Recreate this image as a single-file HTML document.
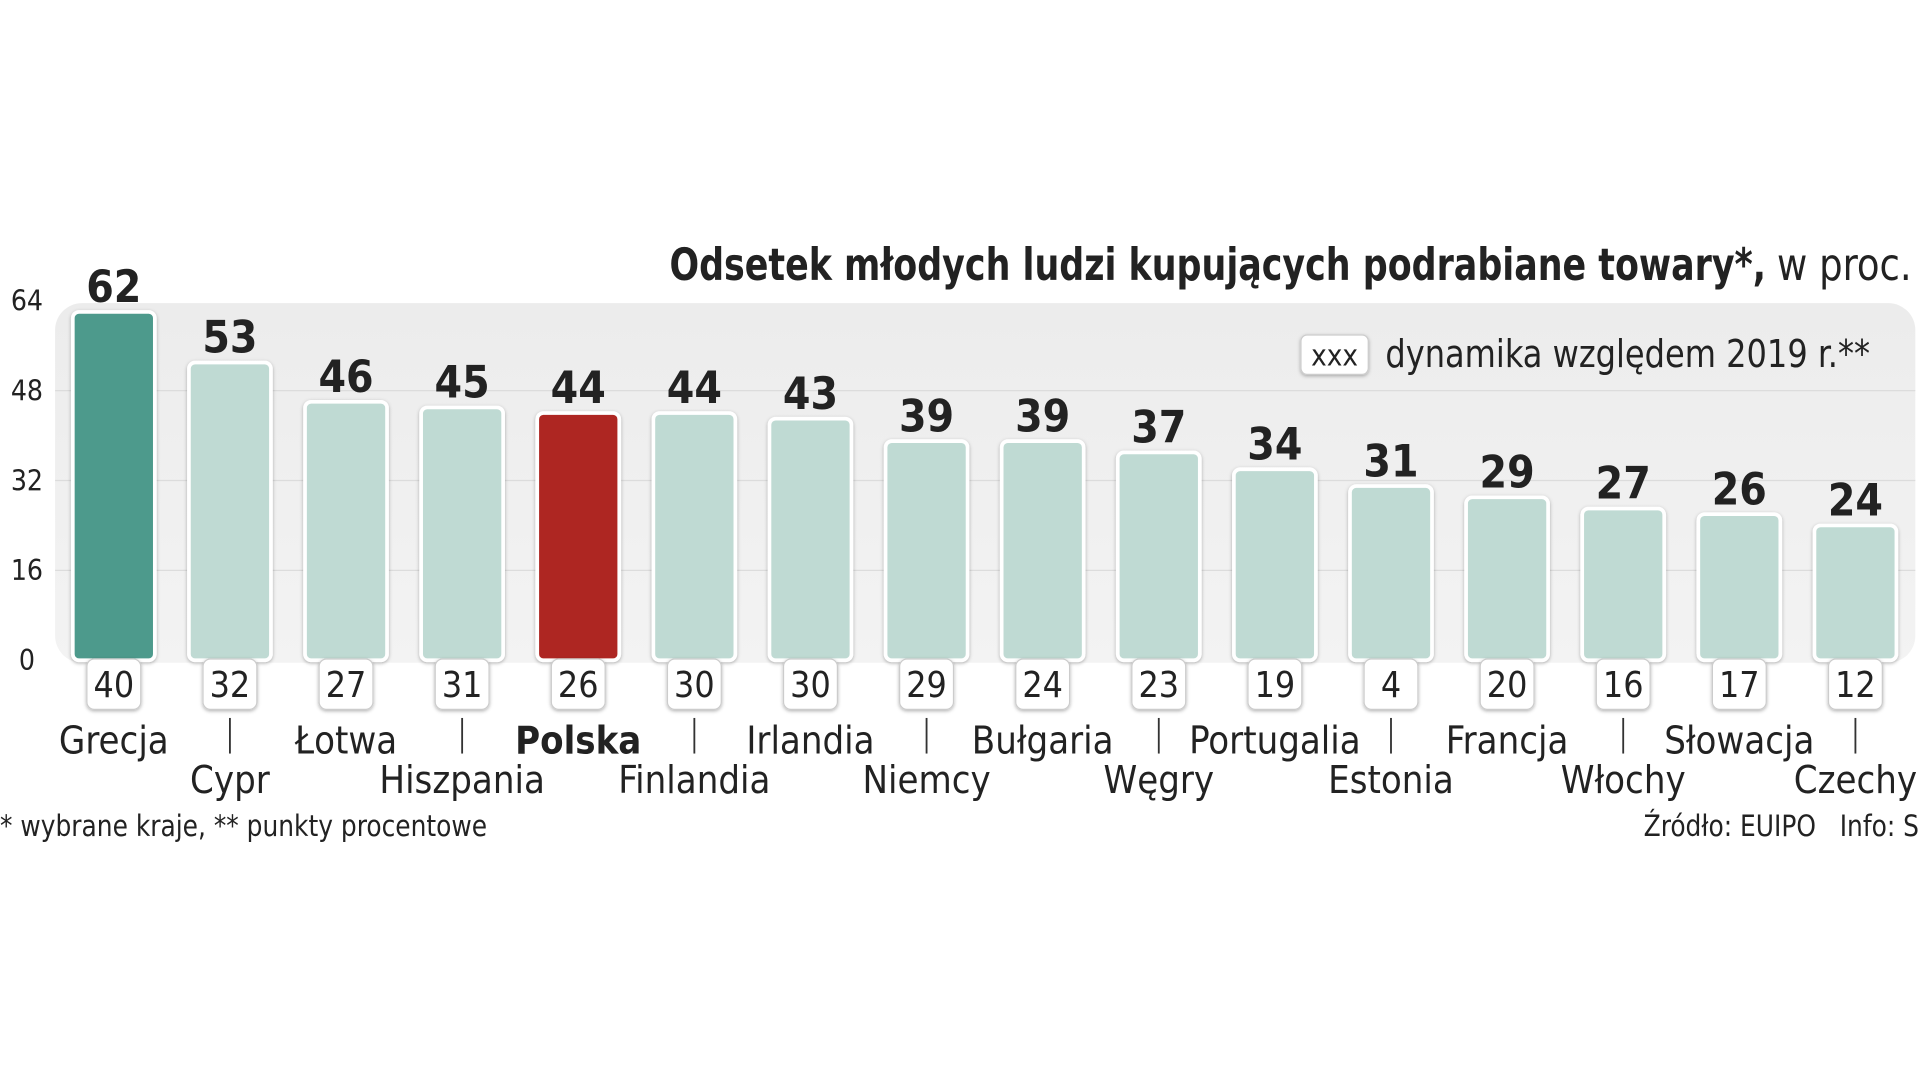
<!DOCTYPE html>
<html><head><meta charset="utf-8">
<style>
html,body{margin:0;padding:0;background:#fff;}
svg{display:block;}
text{font-family:"Liberation Sans Narrow","DejaVu Sans Condensed","Liberation Sans",sans-serif;fill:#222;}
</style></head>
<body>
<svg id="chart" width="1919" height="1080" viewBox="0 0 1568 880" preserveAspectRatio="none" xmlns="http://www.w3.org/2000/svg">
<defs>
<linearGradient id="panelGrad" x1="0" y1="0" x2="0" y2="1">
<stop offset="0" stop-color="#ececec"/><stop offset="1" stop-color="#f3f3f3"/>
</linearGradient>
<filter id="sh" x="-20%" y="-20%" width="140%" height="140%">
<feDropShadow dx="0" dy="1" stdDeviation="1.5" flood-color="#000" flood-opacity="0.3"/>
</filter>
</defs>
<text x="547" y="228" font-size="36" font-weight="bold" textLength="896" lengthAdjust="spacingAndGlyphs">Odsetek młodych ludzi kupujących podrabiane towary*,</text>
<text x="1452" y="228" font-size="36" fill="#333" textLength="110" lengthAdjust="spacingAndGlyphs">w proc.</text>
<rect x="45" y="247" width="1520" height="293" rx="22" fill="url(#panelGrad)"/>
<g id="grid"></g>
<g id="legend">
<rect x="1063" y="273" width="55" height="32" rx="5" fill="#fff" stroke="#ccc" filter="url(#sh)"/>
<text x="1090.5" y="298" text-anchor="middle" font-size="24">xxx</text>
<text x="1132" y="299" font-size="31" fill="#333" textLength="396" lengthAdjust="spacingAndGlyphs">dynamika względem 2019 r.**</text>
</g>
<g id="bars"></g>
<text x="0" y="681" font-size="24" fill="#444" textLength="398" lengthAdjust="spacingAndGlyphs">* wybrane kraje, ** punkty procentowe</text>
<text x="1343" y="681" font-size="24" fill="#444" xml:space="preserve" textLength="225" lengthAdjust="spacingAndGlyphs">Źródło: EUIPO   Info: S</text>
</svg>
<script>
const categories = ["Grecja","Cypr","Łotwa","Hiszpania","Polska","Finlandia","Irlandia","Niemcy","Bułgaria","Węgry","Portugalia","Estonia","Francja","Włochy","Słowacja","Czechy"];
const values = [62,53,46,45,44,44,43,39,39,37,34,31,29,27,26,24];
const changes = [40,32,27,31,26,30,30,29,24,23,19,4,20,16,17,12];
const yTicks = [0,16,32,48,64];

const NS = "http://www.w3.org/2000/svg";
const y0 = 538, yTop = 245, yMax = 64;
function yScale(v){ return y0 - (v / yMax) * (y0 - yTop); }
const x0 = 93, step = 94.87;
function xScale(i){ return x0 + i * step; }
function mk(tag, attrs, parent){
  const el = document.createElementNS(NS, tag);
  for (const k in attrs) el.setAttribute(k, attrs[k]);
  parent.appendChild(el);
  return el;
}
const grid = document.getElementById('grid');
yTicks.forEach(t => {
  const yy = yScale(t);
  if (t > 0 && t < yMax) {
    const ln = mk('line', {x1: 45, x2: 1565, y1: yy, y2: yy, stroke: '#dcdcdc', 'stroke-width': 1}, grid);
    
    
  }
  const lb = mk('text', {x: 22, y: yy + 8, 'text-anchor': 'middle', 'font-size': 23, fill: '#333', 'font-family': '"Liberation Sans",sans-serif'}, grid);
  lb.textContent = t;
  
  
});
const bars = document.getElementById('bars');
const bw = 67;
categories.forEach((c, i) => {
  const cx = xScale(i);
  const top = yScale(values[i]);
  const fill = i === 0 ? '#4e9a8c' : (c === 'Polska' ? '#ae2820' : '#bfdad3');
  const r = mk('rect', {x: cx - bw/2, y: top, width: bw, height: y0 - top, rx: 5, fill: fill, stroke: '#fff', 'stroke-width': 3, filter: 'url(#sh)'}, bars);
  
  
  const vl = mk('text', {x: cx, y: top - 8, 'text-anchor': 'middle', 'font-size': 36, 'font-weight': 'bold'}, bars);
  vl.textContent = values[i];
  
  
  const bx = mk('rect', {x: cx - 22, y: 537, width: 44, height: 41, rx: 6, fill: '#fff', stroke: '#ccc', 'stroke-width': 1, filter: 'url(#sh)'}, bars);
  
  
  const ct = mk('text', {x: cx, y: 568, 'text-anchor': 'middle', 'font-size': 29}, bars);
  ct.textContent = changes[i];
  
  
  const odd = i % 2 === 1;
  if (odd) {
    const tk = mk('line', {x1: cx, x2: cx, y1: 585, y2: 614, stroke: '#333', 'stroke-width': 1.5}, bars);
    
    
  }
  const nl = mk('text', {x: cx, y: odd ? 646 : 614, 'text-anchor': 'middle', 'font-size': 31, 'font-weight': c === 'Polska' ? 'bold' : 'normal'}, bars);
  nl.textContent = c;
  
  
});
</script>
</body></html>
